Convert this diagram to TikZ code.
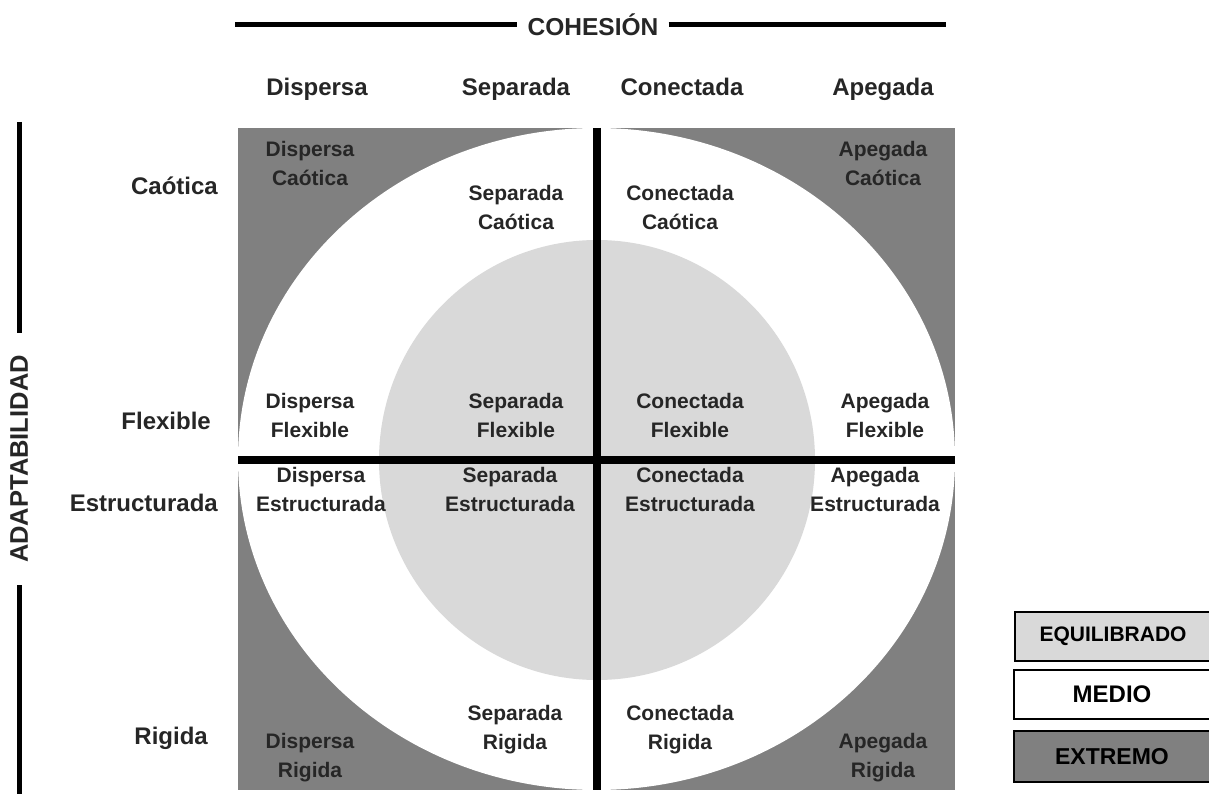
\documentclass[tikz,border=0pt]{standalone}
\usepackage{fontspec}
\setmainfont{Liberation Sans}
\definecolor{extremo}{HTML}{808080}
\definecolor{equil}{HTML}{D9D9D9}
\definecolor{txt}{HTML}{262626}
\begin{document}
\begin{tikzpicture}[x=1pt,y=-1pt,
  lab/.style={font=\bfseries\fontsize{21}{29}\selectfont, align=center, text=txt, inner sep=0pt},
  hdr/.style={font=\bfseries\fontsize{24}{28}\selectfont, text=txt, inner sep=0pt},
  axis/.style={font=\bfseries\fontsize{24.5}{28}\selectfont, text=txt},
  divider/.style={line width=8pt, black},
  axisline/.style={line width=5pt, black},
  legbox/.style={draw=black, line width=2pt, minimum width=196pt, text=black, font=\bfseries\fontsize{21}{25}\selectfont, inner sep=0pt}]
\useasboundingbox (0,0) rectangle (1209,794);
\fill[white] (0,0) rectangle (1209,794);
% regions
\fill[extremo] (238,128) rectangle (955,790);
\fill[white] (596.5,459) ellipse [x radius=358.5, y radius=331];
\fill[equil] (597,460) ellipse [x radius=218, y radius=220];
% dividers
\coordinate (vt) at (597,128);
\coordinate (vb) at (597,790);
\coordinate (hl) at (238,460);
\coordinate (hr) at (955,460);
\draw[divider] (vt) -- (vb);
\draw[divider] (hl) -- (hr);
% COHESION axis
\node[axis, inner xsep=10pt] (coh) at (593,25) {COHESIÓN};
\coordinate (cohL) at (235,25);
\coordinate (cohR) at (946,25);
\draw[axisline] (cohL) -- (coh.west);
\draw[axisline] (coh.east) -- (cohR);
% ADAPTABILIDAD axis
\node[axis, rotate=90, inner xsep=22pt, font=\bfseries\fontsize{25.5}{28}\selectfont] (ada) at (19,459) {ADAPTABILIDAD};
\coordinate (adaT) at (19,122);
\coordinate (adaB) at (19,794);
\draw[axisline] (adaT) -- (ada.east);
\draw[axisline] (ada.west) -- (adaB);
% column headers
\node[hdr, anchor=base] (cDis) at (317,96) {Dispersa};
\node[hdr, anchor=base] (cSep) at (516,96) {Separada};
\node[hdr, anchor=base] (cCon) at (682,96) {Conectada};
\node[hdr, anchor=base] (cApe) at (883,96) {Apegada};
% row headers
\node[hdr, anchor=base east] (rCao) at (218,195) {Caótica};
\node[hdr, anchor=base east] (rFle) at (211,429) {Flexible};
\node[hdr, anchor=base east] (rEst) at (218,511) {Estructurada};
\node[hdr, anchor=base east] (rRig) at (208,744) {Rigida};
% quadrant labels
\node[lab] (q11) at (310,163) {Dispersa\\Caótica};
\node[lab] (q12) at (516,207) {Separada\\Caótica};
\node[lab] (q13) at (680,207) {Conectada\\Caótica};
\node[lab] (q14) at (883,163) {Apegada\\Caótica};
\node[lab] (q21) at (310,415) {Dispersa\\Flexible};
\node[lab] (q22) at (516,415) {Separada\\Flexible};
\node[lab] (q23) at (690,415) {Conectada\\Flexible};
\node[lab] (q24) at (885,415) {Apegada\\Flexible};
\node[lab] (q31) at (321,489) {Dispersa\\Estructurada};
\node[lab] (q32) at (510,489) {Separada\\Estructurada};
\node[lab] (q33) at (690,489) {Conectada\\Estructurada};
\node[lab] (q34) at (875,489) {Apegada\\Estructurada};
\node[lab] (q41) at (310,758) {Dispersa\\Rigida};
\node[lab] (q42) at (515,730) {Separada\\Rigida};
\node[lab] (q43) at (680,730) {Conectada\\Rigida};
\node[lab] (q44) at (883,758) {Apegada\\Rigida};
% legend
\node[legbox, fill=equil, minimum height=49pt] (lEq) at (1113,636.5) {EQUILIBRADO};
\node[legbox, fill=white, minimum height=49pt, font=\bfseries\fontsize{24}{28}\selectfont] (lMe) at (1112,694.5) {MEDIO};
\node[legbox, fill=extremo, minimum height=51pt, font=\bfseries\fontsize{23}{27}\selectfont] (lEx) at (1112,756.5) {EXTREMO};
\end{tikzpicture}
\end{document}
